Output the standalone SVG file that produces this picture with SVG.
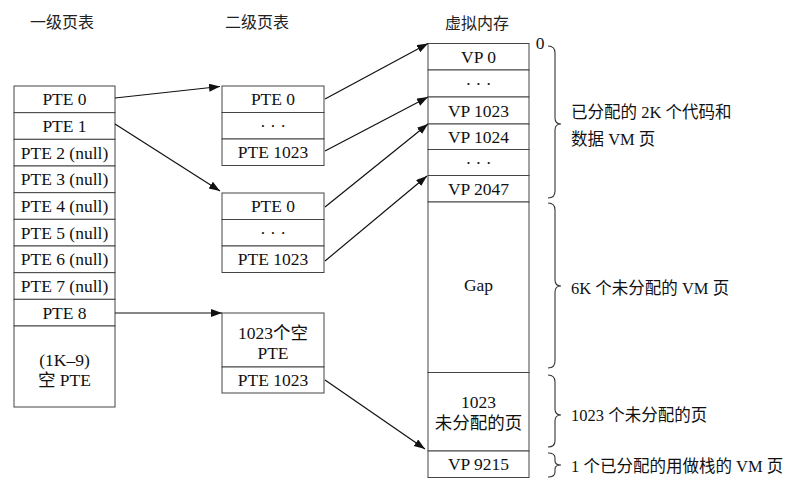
<svg xmlns="http://www.w3.org/2000/svg" width="804" height="486" viewBox="0 0 804 486">
<defs>
<style>
.t{font-size:17.5px;fill:#111;text-anchor:middle;dominant-baseline:central}
.l{font-size:16.5px;fill:#111;dominant-baseline:central}
.h{font-size:16px;fill:#222;text-anchor:middle;dominant-baseline:central}
.c{fill:#fff;stroke:#444;stroke-width:1}
.a{fill:none;stroke:#111;stroke-width:1.2;marker-end:url(#ah)}
.b{fill:none;stroke:#333;stroke-width:1.1}
</style>
<marker id="ah" markerUnits="userSpaceOnUse" markerWidth="12" markerHeight="10" refX="11" refY="4" orient="auto">
<path d="M0,0 L11,4 L0,8 Z" fill="#111"/>
</marker>
</defs>
<rect width="804" height="486" fill="#fff"/>

<g id="titles" font-family="Noto Sans CJK SC, sans-serif">
<text class="h" x="62" y="21">一级页表</text>
<text class="h" x="257" y="21">二级页表</text>
<text class="h" x="477" y="22">虚拟内存</text>
</g>

<g font-family="Liberation Serif, Noto Sans CJK SC, serif">
<g id="level1">
<rect class="c" x="14" y="86" width="101" height="26.67"/>
<rect class="c" x="14" y="112.67" width="101" height="26.67"/>
<rect class="c" x="14" y="139.33" width="101" height="26.67"/>
<rect class="c" x="14" y="166" width="101" height="26.67"/>
<rect class="c" x="14" y="192.67" width="101" height="26.67"/>
<rect class="c" x="14" y="219.33" width="101" height="26.67"/>
<rect class="c" x="14" y="246" width="101" height="26.67"/>
<rect class="c" x="14" y="272.67" width="101" height="26.67"/>
<rect class="c" x="14" y="299.33" width="101" height="26.67"/>
<rect class="c" x="14" y="326" width="101" height="81"/>
<text class="t" x="64.5" y="99.3">PTE 0</text>
<text class="t" x="64.5" y="126">PTE 1</text>
<text class="t" x="64.5" y="152.7">PTE 2 (null)</text>
<text class="t" x="64.5" y="179.3">PTE 3 (null)</text>
<text class="t" x="64.5" y="206">PTE 4 (null)</text>
<text class="t" x="64.5" y="232.7">PTE 5 (null)</text>
<text class="t" x="64.5" y="259.3">PTE 6 (null)</text>
<text class="t" x="64.5" y="286">PTE 7 (null)</text>
<text class="t" x="64.5" y="312.7">PTE 8</text>
<text class="t" x="64.5" y="360">(1K–9)</text>
<text class="t" x="64.5" y="379.5">空 PTE</text>
</g>

<g id="l2a">
<rect class="c" x="222" y="86" width="102" height="26.5"/>
<rect class="c" x="222" y="112.5" width="102" height="26.5"/>
<rect class="c" x="222" y="139" width="102" height="26.5"/>
<text class="t" x="273" y="99.3">PTE 0</text>
<text class="t" x="273" y="125.8">· · ·</text>
<text class="t" x="273" y="152.3">PTE 1023</text>
</g>

<g id="l2b">
<rect class="c" x="222" y="193" width="102" height="26.5"/>
<rect class="c" x="222" y="219.5" width="102" height="26.5"/>
<rect class="c" x="222" y="246" width="102" height="26.5"/>
<text class="t" x="273" y="206.3">PTE 0</text>
<text class="t" x="273" y="232.8">· · ·</text>
<text class="t" x="273" y="259.3">PTE 1023</text>
</g>

<g id="l2c">
<rect class="c" x="222" y="313" width="102" height="54"/>
<rect class="c" x="222" y="367" width="102" height="26"/>
<text class="t" x="273" y="333">1023个空</text>
<text class="t" x="273" y="353">PTE</text>
<text class="t" x="273" y="380">PTE 1023</text>
</g>

<g id="vm">
<rect class="c" x="428" y="43.5" width="101" height="26.5"/>
<rect class="c" x="428" y="70" width="101" height="27"/>
<rect class="c" x="428" y="97" width="101" height="27"/>
<rect class="c" x="428" y="124" width="101" height="25.5"/>
<rect class="c" x="428" y="149.5" width="101" height="26"/>
<rect class="c" x="428" y="175.5" width="101" height="26.5"/>
<rect class="c" x="428" y="202" width="101" height="170.5"/>
<rect class="c" x="428" y="372.5" width="101" height="78.5"/>
<rect class="c" x="428" y="451" width="101" height="26.5"/>
<text class="t" x="478.5" y="56.7">VP 0</text>
<text class="t" x="478.5" y="83.5">· · ·</text>
<text class="t" x="478.5" y="110.5">VP 1023</text>
<text class="t" x="478.5" y="136.7">VP 1024</text>
<text class="t" x="478.5" y="162.5">· · ·</text>
<text class="t" x="478.5" y="188.7">VP 2047</text>
<text class="t" x="478.5" y="285">Gap</text>
<text class="t" x="478.5" y="401.7">1023</text>
<text class="t" x="478.5" y="422.7">未分配的页</text>
<text class="t" x="478.5" y="464.3">VP 9215</text>
<text class="t" x="540" y="43">0</text>
</g>

<g id="labels">
<text class="l" x="571" y="112">已分配的 2K 个代码和</text>
<text class="l" x="571" y="139">数据 VM 页</text>
<text class="l" x="571" y="288">6K 个未分配的 VM 页</text>
<text class="l" x="571" y="415">1023 个未分配的页</text>
<text class="l" x="571" y="466">1 个已分配的用做栈的 VM 页</text>
</g>
</g>

<g id="braces">
<path class="b" d="M548,46 Q555,46 555,53 L555,118 Q555,124 561,124 Q555,124 555,130 L555,191 Q555,198 548,198"/>
<path class="b" d="M548,203 Q555,203 555,210 L555,280 Q555,286 561,286 Q555,286 555,292 L555,361 Q555,368 548,368"/>
<path class="b" d="M548,375 Q555,375 555,382 L555,409 Q555,415 561,415 Q555,415 555,421 L555,441 Q555,447 548,447"/>
<path class="b" d="M548,453 Q555,453 555,458 L555,461 Q555,465 561,465 Q555,465 555,469 L555,472 Q555,477 548,477"/>
</g>

<g id="connectors">
<path class="a" d="M115,98 L220,86.5"/>
<path class="a" d="M115,124 L220,191"/>
<path class="a" d="M115,313 L222,313"/>
<path class="a" d="M325,99 L428,43.5"/>
<path class="a" d="M325,151 L428,97"/>
<path class="a" d="M325,207 L428,124"/>
<path class="a" d="M325,261 L427,176"/>
<path class="a" d="M325,380 L425,449"/>
</g>
</svg>
